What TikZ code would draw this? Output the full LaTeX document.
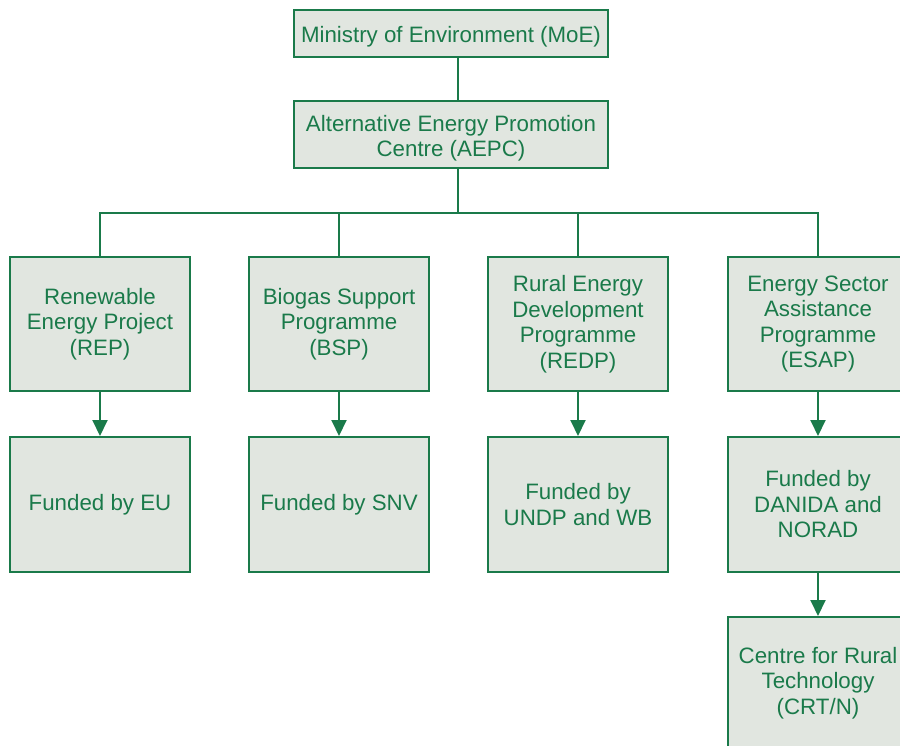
\documentclass[tikz,border=0pt]{standalone}
\usepackage{fontspec}
\setmainfont{Liberation Sans}
\usetikzlibrary{arrows.meta}
\definecolor{orggreen}{HTML}{1A7A4A}
\definecolor{orgfill}{HTML}{E1E6E0}
\begin{document}
\begin{tikzpicture}[x=1pt,y=-1pt,
  orgfont/.style={font=\fontsize{22.3}{25.5}\selectfont},
  orgbox/.style={draw=orggreen,line width=2pt,fill=orgfill,text=orggreen,
    orgfont,align=center,inner sep=0pt},
  orglabel/.style={text=orggreen,orgfont,align=center,inner sep=0pt},
  link/.style={draw=orggreen,line width=2pt},
  feed/.style={link,-{Triangle[width=15pt,length=16pt]}}]
\useasboundingbox (0,0) rectangle (900,746);
\clip (0,0) rectangle (900,746);
% top of the hierarchy
\node[orgbox,minimum width=314pt,minimum height=47pt] (moe) at (451,33.5) {};
\node[orglabel] (moelabel) at (451,37) {Ministry of Environment (MoE)};
\node[orgbox,minimum width=314pt,minimum height=67pt] (aepc) at (451,134.5) {};
\node[orglabel] (aepclabel) at (451,138) {Alternative Energy Promotion\\Centre (AEPC)};
% programmes
\node[orgbox,minimum width=180pt,minimum height=134pt] (rep) at (100,324) {Renewable\\Energy Project\\(REP)};
\node[orgbox,minimum width=180pt,minimum height=134pt] (bsp) at (339,324) {Biogas Support\\Programme\\(BSP)};
\node[orgbox,minimum width=180pt,minimum height=134pt] (redp) at (578,324) {Rural Energy\\Development\\Programme\\(REDP)};
\node[orgbox,minimum width=180pt,minimum height=134pt] (esap) at (818,324) {Energy Sector\\Assistance\\Programme\\(ESAP)};
% funding sources
\node[orgbox,minimum width=180pt,minimum height=135pt] (eu) at (100,504.5) {Funded by EU};
\node[orgbox,minimum width=180pt,minimum height=135pt] (snv) at (339,504.5) {Funded by SNV};
\node[orgbox,minimum width=180pt,minimum height=135pt] (wb) at (578,504.5) {Funded by\\UNDP and WB};
\node[orgbox,minimum width=180pt,minimum height=135pt] (danida) at (818,504.5) {Funded by\\DANIDA and\\NORAD};
% implementing centre
\node[orgbox,minimum width=180pt,minimum height=135pt] (crt) at (818,684.5) {};
\node[orglabel] (crtlabel) at (818,683) {Centre for Rural\\Technology\\(CRT/N)};
% connectors
\coordinate (bus) at (458,213);
\draw[link] (moe.south -| bus) -- (aepc.north -| bus);
\draw[link] (aepc.south -| bus) -- (bus);
\draw[link] (rep.north) |- (bus) -| (esap.north);
\draw[link] (bsp.north) -- (bsp.north |- bus);
\draw[link] (redp.north) -- (redp.north |- bus);
\draw[feed] (rep) -- (eu);
\draw[feed] (bsp) -- (snv);
\draw[feed] (redp) -- (wb);
\draw[feed] (esap) -- (danida);
\draw[feed] (danida) -- (crt);
\end{tikzpicture}
\end{document}
